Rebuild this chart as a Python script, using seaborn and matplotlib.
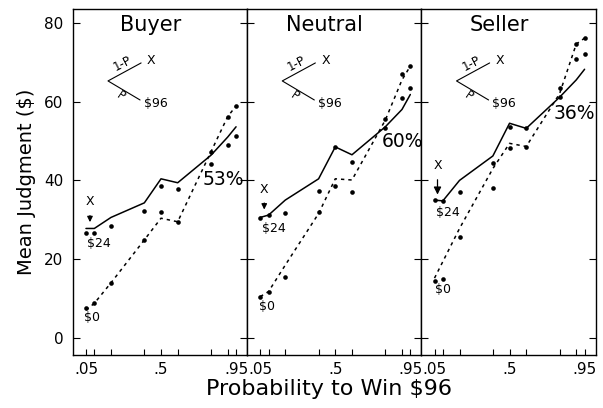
import numpy as np
import pandas as pd
import matplotlib.pyplot as plt
import seaborn as sns

# probability of winning $96
prob = [0.05, 0.10, 0.20, 0.40, 0.50, 0.60, 0.80, 0.90, 0.95]
tick_labels = [".05", "", "", "", ".5", "", "", "", ".95"]
panels = ["Buyer", "Neutral", "Seller"]
percents = ["53%", "60%", "36%"]

# fitted curves: gamble with X = $24 (solid) and X = $0 (dashed)
buyer_fit24 = [27.8, 27.8, 30.6, 34.3, 40.4, 39.4, 46.4, 51.0, 53.6]
buyer_fit0 = [7.1, 8.8, 14.0, 24.9, 30.4, 29.5, 47.3, 56.2, 58.9]
neutral_fit24 = [30.6, 31.2, 35.0, 40.4, 48.5, 46.5, 53.6, 58.0, 61.8]
neutral_fit0 = [10.5, 11.8, 18.5, 31.6, 40.4, 40.1, 55.3, 65.5, 69.0]
seller_fit24 = [35.0, 34.8, 40.0, 46.2, 54.5, 53.2, 61.1, 65.5, 68.2]
seller_fit0 = [15.2, 19.4, 27.8, 43.0, 49.4, 48.6, 62.0, 74.6, 76.1]

# observed mean judgments
buyer_obs24 = [26.6, 26.6, 28.5, 32.2, 38.7, 37.8, 47.3, 49.0, 51.3]
buyer_obs0 = [7.5, 8.8, 14.0, 24.9, 31.9, 29.5, 44.1, 56.2, 58.9]
neutral_obs24 = [30.4, 31.2, 31.8, 37.4, 48.5, 44.6, 55.5, 61.0, 63.5]
neutral_obs0 = [10.5, 11.8, 15.6, 32.1, 38.5, 37.1, 53.4, 67.0, 69.0]
seller_obs24 = [35.0, 34.7, 37.1, 44.3, 53.6, 53.2, 61.1, 70.7, 72.1]
seller_obs0 = [14.5, 14.9, 25.7, 38.0, 48.1, 48.6, 63.4, 74.6, 76.1]

fits = {"Buyer": (buyer_fit24, buyer_fit0),
        "Neutral": (neutral_fit24, neutral_fit0),
        "Seller": (seller_fit24, seller_fit0)}
obs = {"Buyer": (buyer_obs24, buyer_obs0),
       "Neutral": (neutral_obs24, neutral_obs0),
       "Seller": (seller_obs24, seller_obs0)}

rows = []
for name in panels:
    for gamble, vals in zip(["$24", "$0"], fits[name]):
        for p, v in zip(prob, vals):
            rows.append({"panel": name, "gamble": gamble, "kind": "fit", "prob": p, "judgment": v})
    for gamble, vals in zip(["$24", "$0"], obs[name]):
        for p, v in zip(prob, vals):
            rows.append({"panel": name, "gamble": gamble, "kind": "obs", "prob": p, "judgment": v})
df = pd.DataFrame(rows)

# annotation placement (data coords): X label, arrow tip, $24, $0, percent
anno = {
    "Buyer": dict(x=(0.074, 34.6), tip=(0.074, 29.4), s24=(0.058, 24.1), s0=(0.04, 5.1),
                  pct=(0.873, 40.1), head=8),
    "Neutral": dict(x=(0.074, 37.8), tip=(0.074, 32.6), s24=(0.058, 27.9), s0=(0.045, 7.9),
                    pct=(0.906, 49.8), head=8),
    "Seller": dict(x=(0.068, 43.7), tip=(0.068, 36.4), s24=(0.058, 31.8), s0=(0.055, 12.2),
                   pct=(0.89, 56.9), head=11),
}

sns.set_theme(style="ticks")
plt.rcParams["font.family"] = ["DejaVu Sans"]
plt.rcParams.update({"text.color": "black", "axes.labelcolor": "black",
                     "xtick.color": "black", "ytick.color": "black"})

fig, axes = plt.subplots(1, 3, figsize=(6.03, 4.08), dpi=100, sharey=True)
fig.subplots_adjust(left=0.121, right=0.988, bottom=0.130, top=0.978, wspace=0)

for ax, name, pct in zip(axes, panels, percents):
    sub = df[df["panel"] == name]
    sns.lineplot(data=sub[sub["kind"] == "fit"], x="prob", y="judgment", style="gamble",
                 dashes={"$24": "", "$0": (2.2, 2.6)}, color="black", linewidth=1.1,
                 estimator=None, legend=False, ax=ax)
    sns.scatterplot(data=sub[sub["kind"] == "obs"], x="prob", y="judgment", color="black",
                    s=11, linewidth=0, legend=False, ax=ax)

    ax.set_xlim(-0.028, 1.017)
    ax.set_ylim(-4.3, 83.5)
    ax.set_xticks(prob)
    ax.set_xticklabels(tick_labels)
    ax.set_yticks([0, 20, 40, 60, 80])
    ax.tick_params(axis="x", direction="in", length=4, width=0.8, labelsize=11, pad=5)
    ax.tick_params(axis="y", direction="in", length=5, width=0.8, left=True, right=True,
                   labelsize=11, pad=7)
    ax.set_xlabel("")
    ax.set_ylabel("")
    for sp in ax.spines.values():
        sp.set_linewidth(1.0)
        sp.set_color("black")

    ax.text(0.445, 0.955, name, transform=ax.transAxes, ha="center", va="center", fontsize=15)

    # gamble diagram
    ax.plot([0.391, 0.201, 0.385], [0.844, 0.792, 0.737], color="black", lw=0.8,
            transform=ax.transAxes)
    ax.text(0.425, 0.850, "X", transform=ax.transAxes, ha="left", va="center", fontsize=9)
    ax.text(0.405, 0.728, r"\$96", transform=ax.transAxes, ha="left", va="center", fontsize=9)
    ax.text(0.285, 0.842, "1-P", transform=ax.transAxes, ha="center", va="center",
            fontsize=8.5, rotation=27)
    ax.text(0.272, 0.748, "P", transform=ax.transAxes, ha="center", va="center",
            fontsize=8.5, rotation=-34)

    a = anno[name]
    ax.annotate("X", xy=a["tip"], xytext=a["x"], ha="center", va="center", fontsize=9,
                arrowprops=dict(arrowstyle="-|>", color="black", lw=0.9,
                                mutation_scale=a["head"], shrinkA=3, shrinkB=0))
    ax.text(*a["s24"], r"\$24", ha="left", va="center", fontsize=9)
    ax.text(*a["s0"], r"\$0", ha="left", va="center", fontsize=9)
    ax.text(*a["pct"], pct, ha="center", va="center", fontsize=13.5)

axes[0].set_ylabel(r"Mean Judgment (\$)", fontsize=14, labelpad=6)
fig.text(0.545, 0.047, r"Probability to Win \$96", ha="center", va="center", fontsize=16)

plt.savefig("out.png", dpi=100)
